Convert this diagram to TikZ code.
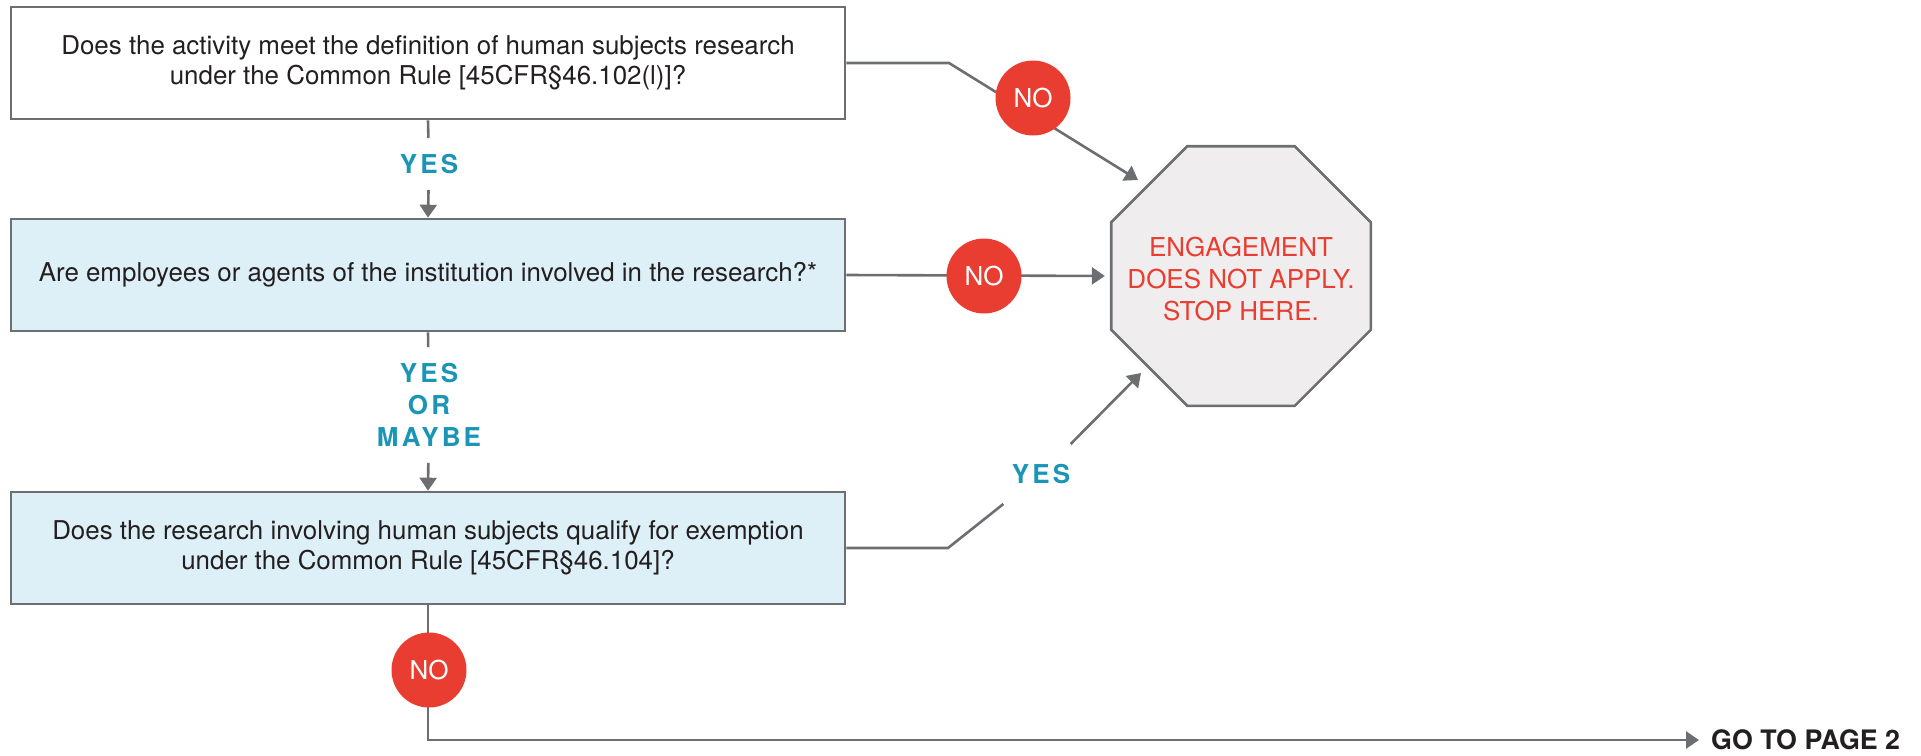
\documentclass[tikz,border=0pt]{standalone}
\usepackage{fontspec}
\setmainfont{TeX Gyre Heros}
\newfontfamily\spacedfont[LetterSpace=12]{TeX Gyre Heros}
\usetikzlibrary{shapes.geometric,arrows.meta}
\definecolor{linegray}{HTML}{6D6E71}
\definecolor{boxblue}{HTML}{DDF0F7}
\definecolor{stopred}{HTML}{E83D30}
\definecolor{tealblue}{HTML}{1A95B6}
\definecolor{octfill}{HTML}{EFEDEE}
\definecolor{textdark}{HTML}{231F20}
\tikzset{
  qbox/.style={draw=linegray, line width=2.6pt, minimum width=834pt, minimum height=112pt,
    inner sep=0pt, align=center, text=textdark, font=\fontsize{25.9}{29.5}\selectfont},
  bluebox/.style={qbox, fill=boxblue},
  nocircle/.style={circle, fill=stopred, minimum size=75pt, inner sep=0pt, text=white,
    font=\fontsize{26}{30}\selectfont},
  yeslabel/.style={text=tealblue, align=center, inner sep=16pt,
    font=\fontsize{26}{32}\spacedfont\bfseries},
  conn/.style={draw=linegray, line width=2.6pt},
  arr/.style={conn, -{Triangle[length=13pt,width=17pt]}},
}
\begin{document}
\begin{tikzpicture}[x=1pt,y=-1pt]
\useasboundingbox (0,0) rectangle (1921,755);
% boxes
\node[qbox] (b1) at (428,63) {Does the activity meet the definition of human subjects research\\under the Common Rule [45CFR\S46.102(l)]?};
\node[bluebox] (b2) at (428,275) {Are employees or agents of the institution involved in the research?*};
\node[bluebox] (b3) at (428,548) {Does the research involving human subjects qualify for exemption\\under the Common Rule [45CFR\S46.104]?};
% octagon
\node[regular polygon, regular polygon sides=8, minimum size=281pt, inner sep=0pt,
  draw=linegray, line width=2.6pt, fill=octfill] (oct) at (1241,276) {};
\node[align=center, text=stopred, inner sep=0pt,
  font=\fontsize{26}{32}\selectfont] (octtext) at (1241,279) {ENGAGEMENT\\DOES NOT APPLY.\\STOP HERE.};
% labels
\node[yeslabel, inner ysep=16pt] (yes1) at (429,164) {YES};
\node[yeslabel] (yes2) at (429,405) {YES\\OR\\MAYBE};
\node[yeslabel, inner sep=20pt] (yes3) at (1041,474) {YES};
\node[anchor=west, inner sep=0pt, text=textdark, font=\fontsize{26.8}{30}\selectfont\bfseries] (go) at (1711,740) {GO TO PAGE 2};
% coordinates
\coordinate (c1) at (949,63);
\coordinate (t1) at (1138,180);
\coordinate (c3) at (948,548);
\coordinate (t3) at (1141,373);
% connectors
\draw[conn] (b1.south) -- (yes1);
\draw[arr] (yes1) -- (b2.north);
\draw[conn] (b2.south) -- (yes2);
\draw[arr] (yes2) -- (b3.north);
\draw[arr] (b1.east) -- (c1) -- (t1);
\draw[arr, shorten >=5pt] (b2.east) -- (oct.west);
\draw[conn] (b3.east) -- (c3) -- (yes3);
\draw[arr] (yes3) -- (t3);
\draw[arr, shorten >=12pt] (b3.south) |- (go.west);
% NO circles
\node[nocircle] (no1) at (1033,98) {NO};
\node[nocircle] (no2) at (984,276) {NO};
\node[nocircle] (no3) at (429,670) {NO};
\end{tikzpicture}
\end{document}
